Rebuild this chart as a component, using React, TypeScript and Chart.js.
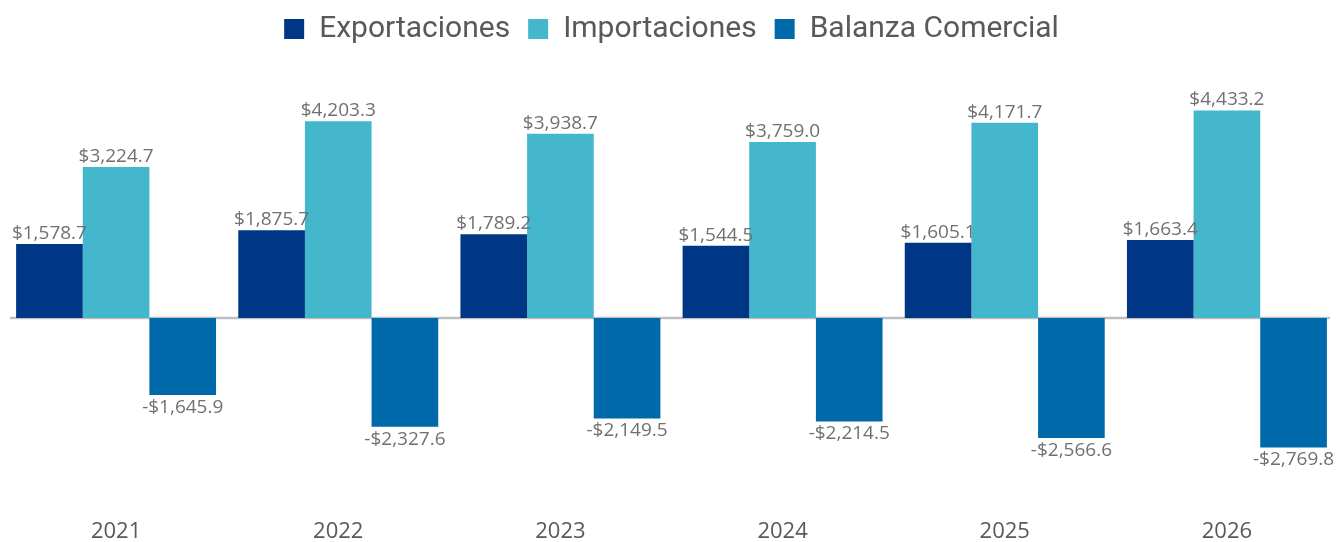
import React, { useEffect, useRef } from "react";
import { Chart, registerables } from "chart.js";

Chart.register(...registerables);

const years = ["2021", "2022", "2023", "2024", "2025", "2026"];
const exportaciones = [1578.7, 1875.7, 1789.2, 1544.5, 1605.1, 1663.4];
const importaciones = [3224.7, 4203.3, 3938.7, 3759.0, 4171.7, 4433.2];
const balanza = [-1645.9, -2327.6, -2149.5, -2214.5, -2566.6, -2769.8];
const seriesNames = ["Exportaciones", "Importaciones", "Balanza Comercial"];
const seriesColors = ["#003686", "#45B7CC", "#0069AA"];
const yMin = -4000;
const yMax = 5000;

const fmt = (v: number) => {
  const s = Math.abs(v).toLocaleString("en-US", { minimumFractionDigits: 1, maximumFractionDigits: 1 });
  return (v < 0 ? "-$" : "$") + s;
};

const labelsPlugin = {
  id: "valueLabels",
  afterDatasetsDraw(chart: any) {
    const ctx = chart.ctx;
    ctx.save();
    ctx.font = "19px 'Open Sans'";
    ctx.fillStyle = "#707070";
    ctx.textAlign = "center";
    chart.data.datasets.forEach((ds: any, di: number) => {
      const meta = chart.getDatasetMeta(di);
      meta.data.forEach((el: any, i: number) => {
        const v = ds.data[i];
        if (v >= 0) {
          ctx.textBaseline = "bottom";
          ctx.fillText(fmt(v), el.x, el.y - 1);
        } else {
          ctx.textBaseline = "top";
          ctx.fillText(fmt(v), el.x, el.y + 3);
        }
      });
    });
    ctx.restore();
  },
};

const zeroLinePlugin = {
  id: "zeroLine",
  beforeDatasetsDraw(chart: any) {
    const ctx = chart.ctx;
    const y = chart.scales.y.getPixelForValue(0);
    const { left, right } = chart.chartArea;
    ctx.save();
    ctx.strokeStyle = "#BFBFC3";
    ctx.lineWidth = 2.5;
    ctx.beginPath();
    ctx.moveTo(left + 5, y);
    ctx.lineTo(right - 8, y);
    ctx.stroke();
    ctx.restore();
  },
};

const legendSpacePlugin = {
  id: "legendSpace",
  beforeInit(chart: any) {
    const legend = chart.legend;
    if (!legend) return;
    const orig = legend.fit;
    legend.fit = function () {
      orig.call(this);
      this.height += 30;
    };
  },
};

export default function App() {
  const ref = useRef<HTMLCanvasElement | null>(null);
  useEffect(() => {
    if (!ref.current) return;
    const chart = new Chart(ref.current, {
      type: "bar",
      data: {
        labels: years,
        datasets: [exportaciones, importaciones, balanza].map((d, i) => ({
          label: seriesNames[i],
          data: d,
          backgroundColor: seriesColors[i],
          borderWidth: 0,
          barPercentage: 1,
          categoryPercentage: 0.9,
        })),
      },
      options: {
        animation: false,
        responsive: true,
        maintainAspectRatio: false,
        layout: { padding: { left: 5, right: 0, top: -4, bottom: 0 } },
        plugins: {
          tooltip: { enabled: false },
          legend: {
            position: "top",
            labels: {
              boxWidth: 20,
              boxHeight: 20,
              padding: 18,
              color: "#595959",
              font: { family: "Roboto", size: 30 },
            },
          },
        },
        scales: {
          x: {
            grid: { display: false, drawTicks: false },
            border: { display: false },
            ticks: { color: "#595959", font: { family: "'Open Sans'", size: 22, lineHeight: 1 }, padding: 16 },
            afterFit(scale: any) {
              scale.height = 37;
            },
          },
          y: {
            display: false,
            min: yMin,
            max: yMax,
          },
        },
      },
      plugins: [legendSpacePlugin, zeroLinePlugin, labelsPlugin],
    });
    return () => chart.destroy();
  }, []);
  return (
    <div style={{ position: "fixed", left: 0, top: 0, width: 1338, height: 542, background: "#fff" }}>
      <canvas ref={ref} />
    </div>
  );
}
